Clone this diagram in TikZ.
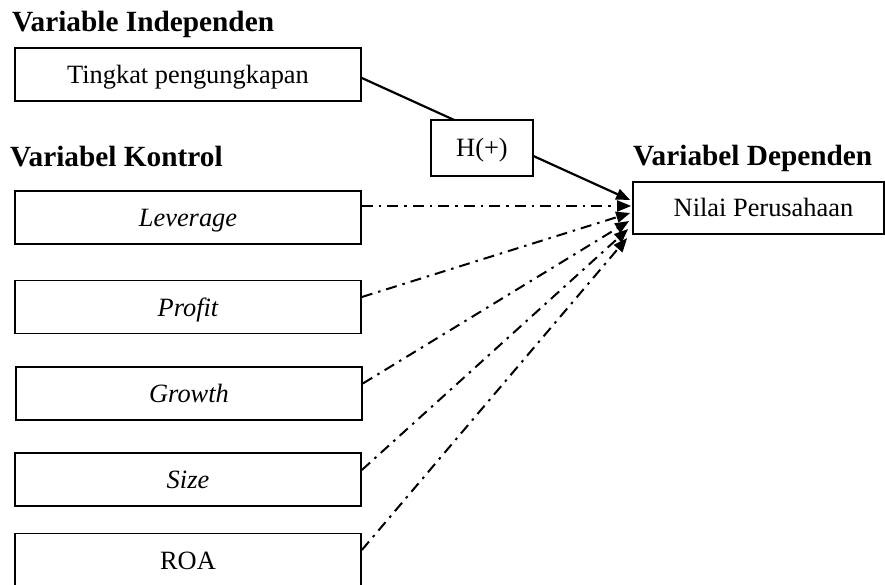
\documentclass[tikz,border=0pt]{standalone}
\usepackage{fontspec}
\setmainfont{Liberation Serif}
\usetikzlibrary{arrows.meta}
\tikzset{
  box/.style={draw, line width=1.7pt, rectangle, inner sep=0pt, minimum width=346pt, minimum height=53pt, text height=22pt, text depth=4pt, font=\fontsize{26.4}{30}\selectfont, fill=white},
  title/.style={anchor=base west, inner sep=0pt, font=\fontsize{29.3}{32}\selectfont\bfseries},
  solidarrow/.style={line width=2.2pt, -{Triangle[length=14pt,width=11pt]}},
  dasharrow/.style={line width=2pt, dash pattern=on 11pt off 6pt on 2.5pt off 6pt, -{Triangle[length=14pt,width=11pt]}}
}
\begin{document}
\begin{tikzpicture}[x=1pt,y=-1pt]
\useasboundingbox (0,0) rectangle (885,585);
\node[title] (t1) at (12,32) {Variable Independen};
\node[title] (t2) at (10,167) {Variabel Kontrol};
\node[title] (t3) at (633,166) {Variabel Dependen};

\node[box] (ting) at (188,74.5) {Tingkat pengungkapan};
\node[box] (lev) at (188,217.5) {\itshape Leverage};
\node[box] (prof) at (188,307) {\itshape Profit};
\node[box] (grow) at (189,393.5) {\itshape Growth};
\node[box] (size) at (188,479.5) {\itshape Size};
\node[box] (roa) at (188,560) {ROA};
\node[box, minimum width=251pt, minimum height=52pt] (nilai) at (758.5,208) {\hspace{10pt}Nilai Perusahaan};

\draw[solidarrow] ([yshift=-3.5pt]ting.east) -- ([xshift=-2pt,yshift=8pt]nilai.west);
\node[box, minimum width=102pt, minimum height=56pt] (h) at (482,148) {H(+)};

\draw[dasharrow] ([yshift=11.5pt]lev.east) -- ([xshift=-1pt,yshift=2pt]nilai.west);
\draw[dasharrow] ([yshift=10pt]prof.east) -- ([xshift=-2pt,yshift=-5pt]nilai.west);
\draw[dasharrow] ([yshift=10pt]grow.east) -- ([xshift=-3pt,yshift=-13pt]nilai.west);
\draw[dasharrow] ([yshift=9.5pt]size.east) -- ([xshift=-4pt,yshift=-21pt]nilai.west);
\draw[dasharrow] ([yshift=10pt]roa.east) -- ([xshift=-5pt,yshift=-30pt]nilai.west);
\end{tikzpicture}
\end{document}
